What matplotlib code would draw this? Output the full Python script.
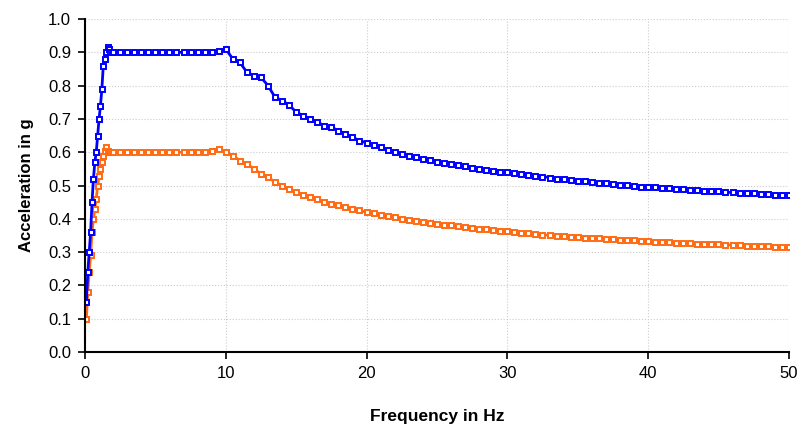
import numpy as np
import matplotlib
matplotlib.use('Agg')
import matplotlib.pyplot as plt

plt.rcParams['font.family'] = ['Liberation Sans', 'DejaVu Sans']

# frequency grid (Hz): fine steps on the ramp, then half-Hz steps
freq_low = np.round(np.arange(0.1, 1.95, 0.1), 2)
freq_mid = np.arange(2.0, 20.0, 0.5)
freq_high = np.arange(20.0, 50.01, 0.5)
freq = np.concatenate([freq_low, freq_mid, freq_high])

blue_low = [0.15, 0.24, 0.30, 0.36, 0.45, 0.52, 0.57, 0.60, 0.65, 0.70,
            0.74, 0.79, 0.86, 0.88, 0.90, 0.915, 0.91, 0.90, 0.90]
blue_mid = [0.90] * 14 + [0.902, 0.905, 0.91, 0.88, 0.87, 0.84, 0.83, 0.825,
                          0.80, 0.765, 0.755, 0.742, 0.72, 0.71, 0.70, 0.69,
                          0.68, 0.675, 0.665, 0.655, 0.645, 0.635]
blue_high = [0.628, 0.621, 0.615, 0.607, 0.600, 0.595, 0.590, 0.585, 0.580, 0.576,
             0.572, 0.568, 0.565, 0.561, 0.558, 0.554, 0.551, 0.548, 0.545, 0.542,
             0.540, 0.537, 0.535, 0.532, 0.530, 0.527, 0.524, 0.521, 0.519, 0.517,
             0.515, 0.513, 0.511, 0.509, 0.507, 0.505, 0.503, 0.501, 0.499, 0.497,
             0.496, 0.494, 0.493, 0.491, 0.490, 0.488, 0.487, 0.485, 0.484, 0.483,
             0.482, 0.480, 0.479, 0.478, 0.477, 0.476, 0.475, 0.473, 0.472, 0.471,
             0.470]

orange_low = [0.10, 0.18, 0.24, 0.29, 0.36, 0.40, 0.43, 0.46, 0.50, 0.53,
              0.55, 0.57, 0.59, 0.605, 0.615, 0.605, 0.60, 0.60, 0.60]
orange_mid = [0.60] * 14 + [0.605, 0.61, 0.60, 0.59, 0.575, 0.565, 0.55, 0.535,
                            0.525, 0.51, 0.50, 0.49, 0.48, 0.47, 0.465, 0.458,
                            0.451, 0.445, 0.44, 0.435, 0.43, 0.425]
orange_high = [0.420, 0.416, 0.412, 0.408, 0.404, 0.400, 0.397, 0.394, 0.391, 0.388,
               0.385, 0.382, 0.380, 0.377, 0.375, 0.372, 0.370, 0.368, 0.366, 0.364,
               0.362, 0.360, 0.358, 0.356, 0.354, 0.352, 0.351, 0.349, 0.348, 0.346,
               0.345, 0.343, 0.342, 0.341, 0.340, 0.338, 0.337, 0.336, 0.335, 0.334,
               0.333, 0.331, 0.330, 0.329, 0.328, 0.327, 0.326, 0.325, 0.325, 0.324,
               0.323, 0.322, 0.321, 0.320, 0.319, 0.318, 0.318, 0.317, 0.316, 0.315,
               0.315]

blue = np.array(blue_low + blue_mid + blue_high)
orange = np.array(orange_low + orange_mid + orange_high)

fig = plt.figure(figsize=(7.98, 4.26), dpi=100)
ax = fig.add_axes([0.1065, 0.1737, 0.882, 0.7817])

style = dict(marker='s', markersize=3.6, markerfacecolor='white',
             markeredgewidth=1.4, linewidth=2.0)
ax.plot(freq, orange, color='#FF6A13', markeredgecolor='#FF6A13', **style)
ax.plot(freq, blue, color='#0000FF', markeredgecolor='#0000FF', **style)

ax.set_xlim(0, 50)
ax.set_ylim(0, 1.0)
ax.set_xticks(np.arange(0, 51, 10))
ax.set_yticks(np.arange(0, 1.01, 0.1))
ax.yaxis.set_major_formatter(matplotlib.ticker.FormatStrFormatter('%.1f'))
ax.grid(True, color='#cccccc', linestyle=':', linewidth=0.8)
ax.set_axisbelow(True)

for s in ['top', 'right']:
    ax.spines[s].set_visible(False)
for s in ['left', 'bottom']:
    ax.spines[s].set_linewidth(1.5)
ax.tick_params(direction='out', length=5, width=1.2, labelsize=12, pad=5)

ax.set_xlabel('Frequency in Hz', fontsize=12.5, fontweight='bold', labelpad=20)
ax.set_ylabel('Acceleration in g', fontsize=12, fontweight='bold', labelpad=10)

fig.savefig('out.png', dpi=100)
